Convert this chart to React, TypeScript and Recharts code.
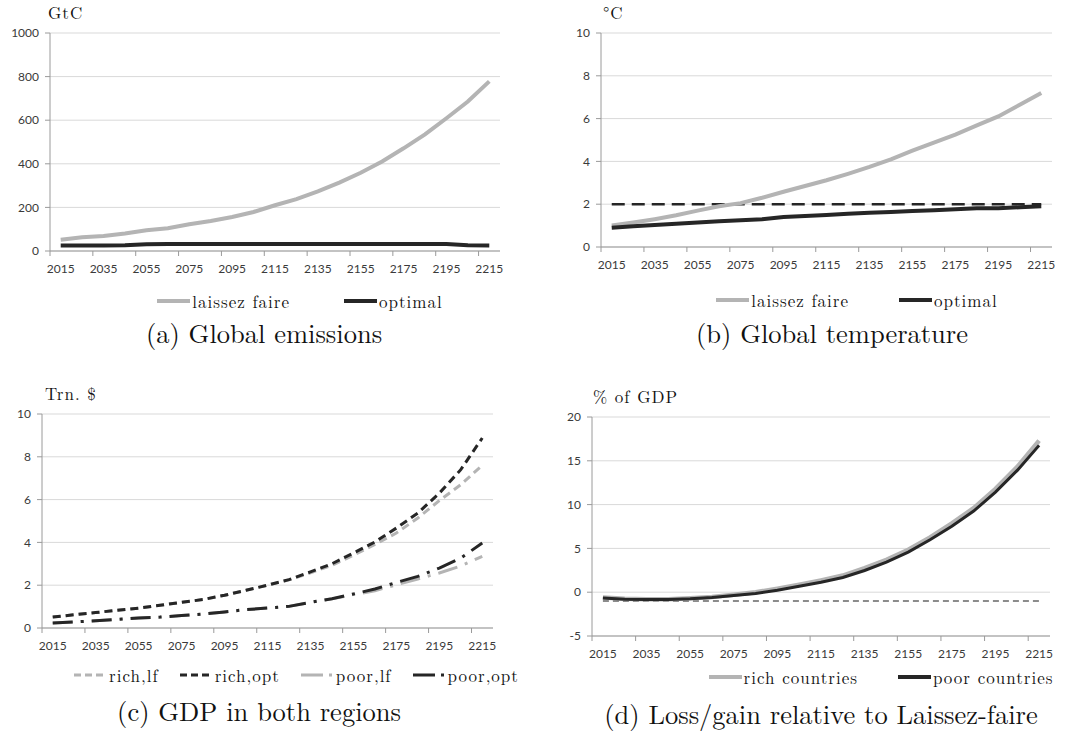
import React from "react";
import {
  CartesianGrid,
  Legend,
  Line,
  LineChart,
  ReferenceLine,
  XAxis,
  YAxis,
} from "recharts";

const years = [
  2015, 2025, 2035, 2045, 2055, 2065, 2075, 2085, 2095, 2105, 2115, 2125, 2135,
  2145, 2155, 2165, 2175, 2185, 2195, 2205, 2215,
];
const yearTicks = [2015, 2035, 2055, 2075, 2095, 2115, 2135, 2155, 2175, 2195, 2215];

// (a) global emissions, GtC
const emissionsLf = [
  52, 63, 69, 80, 95, 104, 123, 138, 156, 179, 210, 238, 274, 314, 359, 411, 471,
  535, 609, 686, 778,
];
const emissionsOpt = [
  25, 25, 25, 26, 31, 32, 32, 32, 32, 32, 32, 32, 32, 32, 32, 32, 32, 32, 32, 26, 25,
];
const emissionTicks = [0, 200, 400, 600, 800, 1000];

// (b) global temperature, °C
const tempLf = [
  1.0, 1.14, 1.3, 1.48, 1.7, 1.9, 2.05, 2.3, 2.58, 2.85, 3.12, 3.42, 3.74, 4.1, 4.5,
  4.88, 5.25, 5.68, 6.1, 6.65, 7.2,
];
const tempOpt = [
  0.9, 0.97, 1.03, 1.09, 1.15, 1.2, 1.25, 1.3, 1.4, 1.45, 1.5, 1.55, 1.6, 1.64, 1.68,
  1.72, 1.76, 1.81, 1.81, 1.86, 1.9,
];
const tempTarget = 2;
const tempTicks = [0, 2, 4, 6, 8, 10];

// (c) GDP, trillion $
const gdpRichLf = [
  0.51, 0.62, 0.72, 0.83, 0.93, 1.06, 1.2, 1.33, 1.53, 1.76, 2.0, 2.25, 2.58, 2.93,
  3.4, 3.9, 4.44, 5.14, 5.95, 6.7, 7.6,
];
const gdpRichOpt = [
  0.51, 0.62, 0.72, 0.83, 0.93, 1.06, 1.2, 1.33, 1.53, 1.76, 2.0, 2.26, 2.62, 3.0,
  3.5, 4.02, 4.67, 5.37, 6.3, 7.4, 8.88,
];
const gdpPoorLf = [
  0.23, 0.28, 0.34, 0.4, 0.47, 0.51, 0.58, 0.65, 0.75, 0.86, 0.93, 1.01, 1.2, 1.36,
  1.56, 1.74, 2.02, 2.29, 2.57, 2.9, 3.35,
];
const gdpPoorOpt = [
  0.23, 0.28, 0.34, 0.4, 0.47, 0.51, 0.58, 0.65, 0.75, 0.86, 0.93, 1.01, 1.2, 1.37,
  1.59, 1.82, 2.13, 2.41, 2.8, 3.27, 3.97,
];
const gdpTicks = [0, 2, 4, 6, 8, 10];

// (d) loss/gain relative to laissez-faire, % of GDP
const gainRich = [
  -0.6, -0.75, -0.8, -0.8, -0.7, -0.55, -0.3, 0.0, 0.4, 0.85, 1.35, 1.9, 2.75, 3.7,
  4.85, 6.25, 7.85, 9.6, 11.8, 14.3, 17.3,
];
const gainPoor = [
  -0.65, -0.8, -0.84, -0.84, -0.76, -0.6, -0.38, -0.15, 0.23, 0.69, 1.14, 1.68, 2.48,
  3.43, 4.57, 5.98, 7.54, 9.26, 11.43, 13.9, 16.76,
];
const gainBaseline = -1;
const gainTicks = [-5, 0, 5, 10, 15, 20];

const emissionsData = years.map((year, i) => ({ year, lf: emissionsLf[i], opt: emissionsOpt[i] }));
const tempData = years.map((year, i) => ({ year, lf: tempLf[i], opt: tempOpt[i] }));
const gdpData = years.map((year, i) => ({
  year,
  richLf: gdpRichLf[i],
  richOpt: gdpRichOpt[i],
  poorLf: gdpPoorLf[i],
  poorOpt: gdpPoorOpt[i],
}));
const gainData = years.map((year, i) => ({ year, rich: gainRich[i], poor: gainPoor[i] }));

const LIGHT = "#b4b4b4";
const DARK = "#262626";
const AXIS = "#9a9a9a";
const GRID = "#d9d9d9";
const TEXT = "#3a3a3a";
const SANS = '"Lato", "Open Sans", sans-serif';
const SERIF = '"Latin Modern Roman", "Liberation Serif", serif';

const X_DOMAIN: [number, number] = [2010, 2220];

type LegendItem = { label: string; color: string; width: number; dash?: string };

function YearTick(props: any) {
  const { x, y, payload, half } = props;
  return (
    <g>
      <line x1={x - half} x2={x - half} y1={y} y2={y + 5} stroke={AXIS} />
      <text
        x={x}
        y={y + 19}
        textAnchor="middle"
        dominantBaseline="middle"
        fontSize={12}
        fontFamily={SANS}
        fill={TEXT}
      >
        {payload.value}
      </text>
    </g>
  );
}

function LegendRow({
  items,
  shift,
  gap,
  dy = 0,
}: {
  items: LegendItem[];
  shift: number;
  gap: number;
  dy?: number;
}) {
  return (
    <div
      style={{
        display: "flex",
        justifyContent: "center",
        gap,
        transform: `translate(${shift}px, ${dy}px)`,
        fontFamily: SERIF,
        fontSize: 17,
        letterSpacing: 1,
        color: "#111",
        lineHeight: "24px",
      }}
    >
      {items.map((it) => (
        <div key={it.label} style={{ display: "flex", alignItems: "center" }}>
          <svg width={33} height={10} style={{ marginRight: 2 }}>
            <line
              x1={0}
              x2={33}
              y1={5}
              y2={5}
              stroke={it.color}
              strokeWidth={it.width}
              strokeDasharray={it.dash}
            />
          </svg>
          <span>{it.label}</span>
        </div>
      ))}
    </div>
  );
}

function Panel({ left, top, width, height, unit, unitLeft, caption, captionCenter, captionTop, children }: any) {
  return (
    <>
      <div
        style={{
          position: "absolute",
          left: unitLeft,
          top: top + 2,
          fontFamily: SERIF,
          fontSize: 17,
          lineHeight: "20px",
          color: "#111",
          letterSpacing: 1,
        }}
      >
        {unit}
      </div>
      <div style={{ position: "absolute", left, top, width, height }}>{children}</div>
      <div
        style={{
          position: "absolute",
          left: captionCenter - 250,
          width: 500,
          top: captionTop,
          textAlign: "center",
          fontFamily: SERIF,
          fontSize: 26.5,
          lineHeight: "28px",
          color: "#111",
        }}
      >
        {caption}
      </div>
    </>
  );
}

function xAxisFor(plotWidth: number, height: number) {
  const half = (5 * plotWidth) / (X_DOMAIN[1] - X_DOMAIN[0]);
  return (
    <XAxis
      dataKey="year"
      type="number"
      domain={X_DOMAIN}
      ticks={yearTicks}
      interval={0}
      tickLine={false}
      tickSize={0}
      tickMargin={0}
      height={height}
      axisLine={{ stroke: AXIS }}
      tick={(p: any) => <YearTick {...p} half={half} />}
    />
  );
}

function yAxisFor(domain: [number, number], ticks: number[], width: number) {
  return (
    <YAxis
      domain={domain}
      ticks={ticks}
      interval={0}
      width={width}
      tickSize={5}
      tickMargin={6}
      axisLine={{ stroke: AXIS }}
      tickLine={{ stroke: AXIS }}
      tick={{ fontSize: 12, fontFamily: SANS, fill: TEXT }}
    />
  );
}

export default function App() {
  return (
    <div
      style={{
        position: "absolute",
        left: 0,
        top: 0,
        width: 1082,
        height: 731,
        background: "#fff",
        overflow: "hidden",
      }}
    >
      {/* (a) */}
      <Panel
        left={0}
        top={0}
        width={540}
        height={310}
        unitLeft={48}
        unit="GtC"
        caption="(a) Global emissions"
        captionCenter={264}
        captionTop={318}
      >
        <LineChart width={540} height={310} data={emissionsData} margin={{ top: 33, right: 40, bottom: 0, left: 0 }}>
          <CartesianGrid vertical={false} stroke={GRID} />
          {xAxisFor(450, 35)}
          {yAxisFor([0, 1000], emissionTicks, 50)}
          <Legend
            verticalAlign="bottom"
            height={24}
            content={() => (
              <LegendRow
                shift={50}
                gap={54}
                dy={3}
                items={[
                  { label: "laissez faire", color: LIGHT, width: 4 },
                  { label: "optimal", color: DARK, width: 4 },
                ]}
              />
            )}
          />
          <Line dataKey="lf" stroke={LIGHT} strokeWidth={4} dot={false} isAnimationActive={false} />
          <Line dataKey="opt" stroke={DARK} strokeWidth={4} dot={false} isAnimationActive={false} />
        </LineChart>
      </Panel>

      {/* (b) */}
      <Panel
        left={540}
        top={0}
        width={542}
        height={310}
        unitLeft={603}
        unit="°C"
        caption="(b) Global temperature"
        captionCenter={832}
        captionTop={318}
      >
        <LineChart width={542} height={310} data={tempData} margin={{ top: 33, right: 30, bottom: 0, left: 0 }}>
          <CartesianGrid vertical={false} stroke={GRID} />
          {xAxisFor(451, 39)}
          {yAxisFor([0, 10], tempTicks, 61)}
          <Legend
            verticalAlign="bottom"
            height={24}
            content={() => (
              <LegendRow
                shift={61}
                gap={50}
                dy={2}
                items={[
                  { label: "laissez faire", color: LIGHT, width: 4 },
                  { label: "optimal", color: DARK, width: 4 },
                ]}
              />
            )}
          />
          <ReferenceLine
            segment={[
              { x: years[0], y: tempTarget },
              { x: years[years.length - 1], y: tempTarget },
            ]}
            stroke={DARK}
            strokeWidth={2.5}
            strokeDasharray="13 7"
          />
          <Line dataKey="lf" stroke={LIGHT} strokeWidth={4} dot={false} isAnimationActive={false} />
          <Line dataKey="opt" stroke={DARK} strokeWidth={4} dot={false} isAnimationActive={false} />
        </LineChart>
      </Panel>

      {/* (c) */}
      <Panel
        left={0}
        top={381}
        width={540}
        height={306}
        unitLeft={45}
        unit="Trn. $"
        caption="(c) GDP in both regions"
        captionCenter={259}
        captionTop={696}
      >
        <LineChart width={540} height={306} data={gdpData} margin={{ top: 33, right: 47, bottom: 0, left: 0 }}>
          <CartesianGrid vertical={false} stroke={GRID} />
          {xAxisFor(451, 35)}
          {yAxisFor([0, 10], gdpTicks, 42)}
          <Legend
            verticalAlign="bottom"
            height={24}
            content={() => (
              <LegendRow
                shift={50}
                gap={21}
                items={[
                  { label: "rich,lf", color: LIGHT, width: 3, dash: "7 4" },
                  { label: "rich,opt", color: DARK, width: 3, dash: "7 4" },
                  { label: "poor,lf", color: LIGHT, width: 3, dash: "22 6 3 20" },
                  { label: "poor,opt", color: DARK, width: 3, dash: "22 6 3 20" },
                ]}
              />
            )}
          />
          <Line dataKey="richLf" stroke={LIGHT} strokeWidth={3} strokeDasharray="8 5" dot={false} isAnimationActive={false} />
          <Line dataKey="richOpt" stroke={DARK} strokeWidth={3} strokeDasharray="8 5" dot={false} isAnimationActive={false} />
          <Line dataKey="poorLf" stroke={LIGHT} strokeWidth={3} strokeDasharray="20 8 3 8" dot={false} isAnimationActive={false} />
          <Line dataKey="poorOpt" stroke={DARK} strokeWidth={3} strokeDasharray="20 8 3 8" dot={false} isAnimationActive={false} />
        </LineChart>
      </Panel>

      {/* (d) */}
      <Panel
        left={540}
        top={384}
        width={542}
        height={308}
        unitLeft={593}
        unit="% of GDP"
        caption="(d) Loss/gain relative to Laissez-faire"
        captionCenter={821}
        captionTop={699}
      >
        <LineChart width={542} height={308} data={gainData} margin={{ top: 33, right: 32, bottom: 0, left: 0 }}>
          <CartesianGrid vertical={false} stroke={GRID} />
          {xAxisFor(458, 32)}
          {yAxisFor([-5, 20], gainTicks, 52)}
          <Legend
            verticalAlign="bottom"
            height={24}
            content={() => (
              <LegendRow
                shift={86}
                gap={40}
                dy={-3}
                items={[
                  { label: "rich countries", color: LIGHT, width: 4 },
                  { label: "poor countries", color: DARK, width: 4 },
                ]}
              />
            )}
          />
          <ReferenceLine
            segment={[
              { x: years[0], y: gainBaseline },
              { x: years[years.length - 1], y: gainBaseline },
            ]}
            stroke="#8c8c8c"
            strokeWidth={2}
            strokeDasharray="6 4"
          />
          <Line dataKey="rich" stroke={LIGHT} strokeWidth={4.5} dot={false} isAnimationActive={false} />
          <Line dataKey="poor" stroke={DARK} strokeWidth={3} dot={false} isAnimationActive={false} />
        </LineChart>
      </Panel>
    </div>
  );
}
